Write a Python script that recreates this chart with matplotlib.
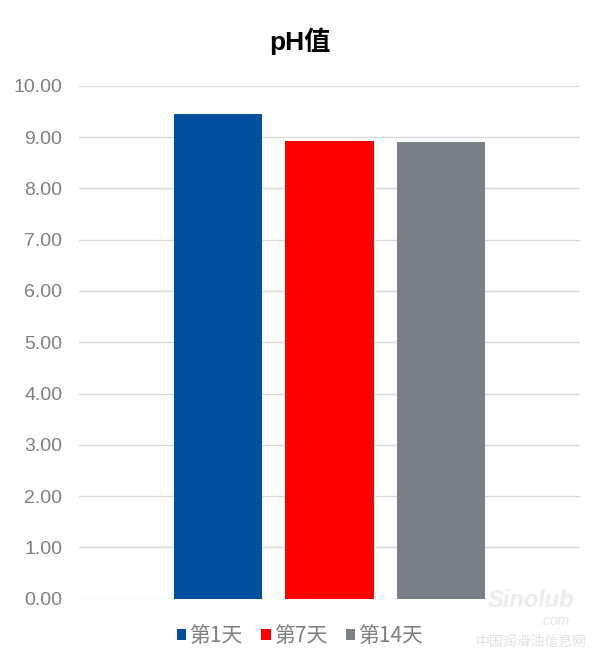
import matplotlib
matplotlib.use("Agg")
import matplotlib.pyplot as plt
from matplotlib.patches import Patch

plt.rcParams['font.family'] = ['Liberation Sans', 'Noto Sans CJK SC', 'DejaVu Sans']

title = "pH值"
series = ["第1天", "第7天", "第14天"]
values = [9.45, 8.93, 8.91]
colors = ["#00509E", "#FF0000", "#79808A"]
yticks = [0, 1, 2, 3, 4, 5, 6, 7, 8, 9, 10]

fig = plt.figure(figsize=(6.0, 6.66), dpi=100)
ax = fig.add_axes([0.1317, 0.101, 0.835, 0.7703])

offsets = [-1, 0, 1]
for off, v, c in zip(offsets, values, colors):
    ax.bar(off, v, width=0.79, color=c, zorder=3)

ax.set_xlim(-2.247, 2.247)
ax.set_ylim(0, 10)
ax.set_yticks(yticks)
ax.set_yticklabels([f"{t:.2f}" for t in yticks])
ax.set_xticks([])
ax.tick_params(axis='y', length=0, pad=12, labelsize=14, labelcolor="#7F7F7F")
ax.grid(axis='y', color="#D9D9D9", linewidth=1.0, zorder=0)
for s in ax.spines.values():
    s.set_visible(False)

fig.text(0.5, 0.938, title, ha='center', va='center', fontsize=19, fontweight='bold',
         color="#000000")

handles = [Patch(facecolor=c, edgecolor='none') for c in colors]
leg = fig.legend(handles, series, loc='center', bbox_to_anchor=(0.5, 0.045), ncol=3,
                 frameon=False, handlelength=0.45, handleheight=0.45,
                 handletextpad=0.15, columnspacing=0.9,
                 prop={'family': ['Noto Sans CJK SC', 'DejaVu Sans'], 'size': 15})
for t in leg.get_texts():
    t.set_color("#7F7F7F")

# watermark
fig.text(0.885, 0.098, "Sinolub", ha='center', va='center', fontsize=17, fontstyle='italic',
         fontweight='bold', color="#EDEDED", zorder=10)
fig.text(0.925, 0.068, ".com", ha='center', va='center', fontsize=10, fontstyle='italic',
         color="#E6E6E6", zorder=10)
fig.text(0.885, 0.036, "中国润滑油信息网", ha='center', va='center', fontsize=10,
         family=['Noto Sans CJK SC', 'DejaVu Sans'], color="#E3E3E3", zorder=10)

fig.savefig("out.png", dpi=100)
